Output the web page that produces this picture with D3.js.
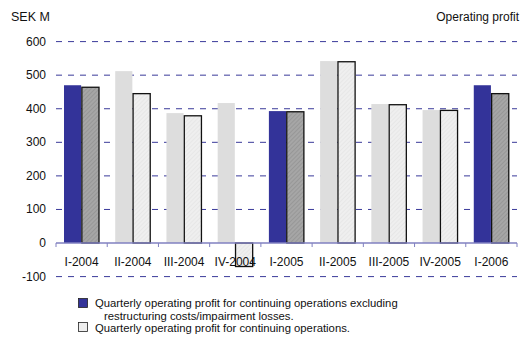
<!DOCTYPE html>
<html><head><meta charset="utf-8">
<script src="https://cdn.jsdelivr.net/npm/d3@7"></script>
<style>
html,body{margin:0;padding:0;background:#fff;}
text{font-family:"Liberation Sans",Arial,sans-serif;fill:#111;}
</style></head>
<body><svg id="c" width="520" height="351"></svg>
<script>
const categories = ["I-2004","II-2004","III-2004","IV-2004","I-2005","II-2005","III-2005","IV-2005","I-2006"];
const excludingValues = [470, 512, 387, 417, 393, 542, 414, 396, 470];
const reportedValues  = [464, 445, 379, -70, 391, 540, 412, 395, 445];
// which quarters are highlighted (blue / dark hatched) vs pale
const highlighted = [true,false,false,false,true,false,false,false,true];
const yTicks = [-100,0,100,200,300,400,500,600];
const legendLines = ["Quarterly operating profit for continuing operations excluding","restructuring costs/impairment losses.","Quarterly operating profit for continuing operations."];

const svg = d3.select("#c");
const defs = svg.append("defs");
function hatch(id, bg, fg){
  const p = defs.append("pattern").attr("id",id).attr("patternUnits","userSpaceOnUse")
    .attr("width",3).attr("height",3).attr("patternTransform","rotate(45)");
  p.append("rect").attr("width",3).attr("height",3).attr("fill",bg);
  p.append("line").attr("x1",0).attr("y1",0).attr("x2",0).attr("y2",3).attr("stroke",fg).attr("stroke-width",1);
}
hatch("hDark","#a6a6a6","#888888");
hatch("hLight","#efefef","#e0e0e0");

const x0 = d3.scaleBand().domain(categories).range([56,517]);
const x1 = d3.scaleBand().domain([0,1]).range([8,43]).paddingInner(0.04);
const y = d3.scaleLinear().domain([-100,600]).range([276.6,41.6]);

// gridlines
svg.append("g").selectAll("line").data(yTicks.filter(d=>d!==0)).join("line")
  .attr("x1",56).attr("x2",517).attr("y1",d=>y(d)).attr("y2",d=>y(d))
  .attr("stroke","#3a3a9a").attr("stroke-width",1).attr("stroke-dasharray","6,6");

// y labels
svg.append("g").selectAll("text").data(yTicks).join("text")
  .attr("x",46).attr("y",d=>y(d)+4).attr("text-anchor","end").attr("font-size",12).text(d=>d);

// bars
const g = svg.append("g").selectAll("g").data(categories).join("g")
  .attr("transform",d=>`translate(${x0(d)},0)`);
g.append("rect")
  .attr("x",x1(0)).attr("width",x1.bandwidth())
  .attr("y",(d,i)=>y(Math.max(0,excludingValues[i])))
  .attr("height",(d,i)=>Math.abs(y(excludingValues[i])-y(0)))
  .attr("fill",(d,i)=>highlighted[i]?"#333399":"#dddddd");
g.append("rect")
  .attr("x",x1(1)).attr("width",x1.bandwidth())
  .attr("y",(d,i)=>y(Math.max(0,reportedValues[i])))
  .attr("height",(d,i)=>Math.abs(y(reportedValues[i])-y(0)))
  .attr("fill",(d,i)=>highlighted[i]?"url(#hDark)":"url(#hLight)")
  .attr("stroke","#111").attr("stroke-width",1.3);

// zero axis
const xa = svg.append("g");
xa.append("line").attr("x1",56).attr("x2",517).attr("y1",y(0)).attr("y2",y(0))
  .attr("stroke","#8080c0").attr("stroke-width",1.5);
const bounds = categories.map(c=>x0(c)).concat([517]);
xa.selectAll("line.t").data(bounds).join("line").attr("class","t")
  .attr("x1",d=>d).attr("x2",d=>d).attr("y1",y(0)).attr("y2",y(0)+4)
  .attr("stroke","#8080c0").attr("stroke-width",1);
xa.selectAll("text").data(categories).join("text")
  .attr("x",d=>x0(d)+x0.bandwidth()/2).attr("y",y(0)+23).attr("text-anchor","middle")
  .attr("font-size",12).text(d=>d);

// titles
svg.append("text").attr("x",11).attr("y",21).attr("font-size",12.5).text("SEK M");
svg.append("text").attr("x",519).attr("y",21).attr("text-anchor","end").attr("font-size",12).text("Operating profit");

// legend
svg.append("rect").attr("x",78.5).attr("y",298.5).attr("width",9).attr("height",9)
  .attr("fill","#333399").attr("stroke","#222").attr("stroke-width",0.8);
svg.append("rect").attr("x",78.5).attr("y",322.5).attr("width",9).attr("height",9)
  .attr("fill","#eeeeee").attr("stroke","#222").attr("stroke-width",0.8);
svg.append("text").attr("x",95).attr("y",306.5).attr("font-size",11.3).text(legendLines[0]);
svg.append("text").attr("x",104).attr("y",319.5).attr("font-size",11.3).text(legendLines[1]);
svg.append("text").attr("x",95).attr("y",332).attr("font-size",11.3).text(legendLines[2]);
</script></body></html>
